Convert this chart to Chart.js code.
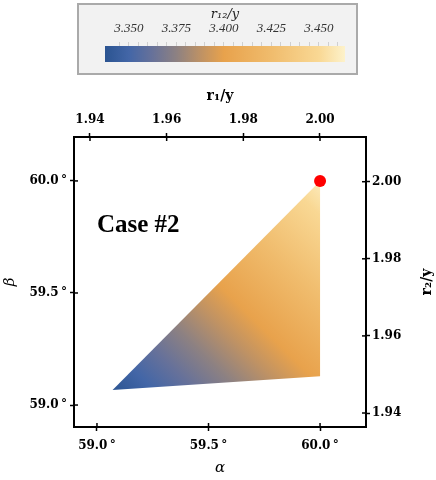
<!DOCTYPE html>
<html>
<head>
<meta charset="utf-8">
<script src="https://cdn.jsdelivr.net/npm/chart.js@4.4.1/dist/chart.umd.min.js"></script>
<style>
  body { margin: 0; background: #fff; width: 436px; height: 480px; position: relative; overflow: hidden; }
  #cbarBox { position: absolute; left: 77px; top: 3px; width: 277px; height: 68px; border: 2px solid #aaa; background: #f2f2f2; }
  #cbarBox canvas, #mainBox canvas { display: block; }
  #mainBox { position: absolute; left: 0; top: 80px; width: 436px; height: 400px; }
</style>
</head>
<body>
<div id="cbarBox"><canvas id="cbar" width="277" height="68"></canvas></div>
<div id="mainBox"><canvas id="main" width="436" height="400"></canvas></div>
<script>
// corners of the filled region (alpha, beta in degrees) and r12/y there
var regionAlpha = [59.07, 60.0, 60.0];
var regionBeta = [59.067, 59.129, 60.0];
var regionValue = [3.338, 3.405, 3.460];

// the marked point
var pointAlpha = [60.0];
var pointBeta = [60.0];

// axis ticks
var alphaTicks = [59.0, 59.5, 60.0];
var betaTicks = [59.0, 59.5, 60.0];
var r1Ticks = [1.94, 1.96, 1.98, 2.00];
var r2Ticks = [1.94, 1.96, 1.98, 2.00];

// colour bar
var cbarTicks = [3.350, 3.375, 3.400, 3.425, 3.450];
var cbarMinorTicks = [3.345, 3.350, 3.355, 3.360, 3.365, 3.370, 3.375, 3.380, 3.385, 3.390, 3.395, 3.400,
                      3.405, 3.410, 3.415, 3.420, 3.425, 3.430, 3.435, 3.440, 3.445, 3.450, 3.455, 3.460];
var cmapValues = [3.3374, 3.350, 3.362, 3.375, 3.388, 3.400, 3.425, 3.450, 3.4637];
var cmapColors = ['#2b5491', '#4366a7', '#66719a', '#8d8182', '#bf9264', '#e8a24c', '#f0bc6d', '#f9d894', '#fdf2cb'];
var cbarMin = 3.3374, cbarMax = 3.4637;

var tickFont = { family: 'DejaVu Serif', weight: 'bold', size: 12 };

function addStops(grad) {
  for (var i = 0; i < cmapValues.length; i++) {
    grad.addColorStop((cmapValues[i] - cbarMin) / (cbarMax - cbarMin), cmapColors[i]);
  }
  return grad;
}

// gradient along the region from the blue corner to the yellow corner
function regionFill(context) {
  var chart = context.chart;
  if (!chart.chartArea) return cmapColors[5];
  var sx = chart.scales.x, sy = chart.scales.y;
  var x0 = sx.getPixelForValue(regionAlpha[0]), y0 = sy.getPixelForValue(regionBeta[0]);
  var x1 = sx.getPixelForValue(regionAlpha[2]), y1 = sy.getPixelForValue(regionBeta[2]);
  var v0 = regionValue[0], v1 = regionValue[2];
  var a = (cbarMin - v0) / (v1 - v0), b = (cbarMax - v0) / (v1 - v0);
  var grad = chart.ctx.createLinearGradient(x0 + a * (x1 - x0), y0 + a * (y1 - y0), x0 + b * (x1 - x0), y0 + b * (y1 - y0));
  return addStops(grad);
}

function cbarFill(context) {
  var chart = context.chart;
  var area = chart.chartArea;
  if (!area) return cmapColors[5];
  return addStops(chart.ctx.createLinearGradient(area.left, 0, area.right, 0));
}

function setTicks(list) {
  return function (scale) { scale.ticks = list.map(function (v) { return { value: v }; }); };
}

// ticks that also poke inside the frame, the right title and the label
var extras = {
  id: 'extras',
  afterDatasetsDraw: function (chart) {
    var ctx = chart.ctx, a = chart.chartArea;
    ctx.save();
    ctx.strokeStyle = '#000';
    ctx.lineWidth = 1.5;
    ['x', 'x2', 'y', 'y2'].forEach(function (id) {
      var s = chart.scales[id];
      s.ticks.forEach(function (t) {
        var p = s.getPixelForValue(t.value);
        ctx.beginPath();
        if (id === 'x') { ctx.moveTo(p, a.bottom); ctx.lineTo(p, a.bottom - 4); }
        if (id === 'x2') { ctx.moveTo(p, a.top); ctx.lineTo(p, a.top + 4); }
        if (id === 'y') { ctx.moveTo(a.left, p); ctx.lineTo(a.left + 4, p); }
        if (id === 'y2') { ctx.moveTo(a.right, p); ctx.lineTo(a.right - 4, p); }
        ctx.stroke();
      });
    });
    // right axis title, reads bottom to top
    ctx.fillStyle = '#000';
    ctx.font = 'bold 14px "DejaVu Serif"';
    ctx.textAlign = 'center';
    ctx.textBaseline = 'middle';
    ctx.translate(chart.width - 9, (a.top + a.bottom) / 2);
    ctx.rotate(-Math.PI / 2);
    ctx.fillText('r\u2082/y', 0, 0);
    ctx.restore();

    ctx.save();
    ctx.fillStyle = '#000';
    ctx.font = 'bold 25px "Liberation Serif"';
    ctx.textAlign = 'left';
    ctx.textBaseline = 'alphabetic';
    ctx.fillText('Case #2', chart.scales.x.getPixelForValue(59.0), chart.scales.y.getPixelForValue(59.77));
    ctx.restore();
  }
};

new Chart(document.getElementById('main'), {
  type: 'scatter',
  data: {
    datasets: [
      {
        data: pointAlpha.map(function (v, i) { return { x: v, y: pointBeta[i] }; }),
        backgroundColor: '#ff0000',
        borderColor: '#ff0000',
        borderWidth: 0,
        pointRadius: 6,
        xAxisID: 'x', yAxisID: 'y'
      },
      {
        data: regionAlpha.map(function (v, i) { return { x: v, y: regionBeta[i] }; }),
        showLine: true,
        fill: 'shape',
        backgroundColor: regionFill,
        borderColor: 'rgba(0,0,0,0)',
        borderWidth: 0,
        pointRadius: 0,
        tension: 0,
        xAxisID: 'x', yAxisID: 'y'
      }
    ]
  },
  options: {
    responsive: false,
    animation: false,
    events: [],
    layout: { padding: 0 },
    plugins: { legend: { display: false }, tooltip: { enabled: false } },
    scales: {
      x: {
        type: 'linear', position: 'bottom', min: 58.897, max: 60.206,
        afterBuildTicks: setTicks(alphaTicks),
        afterFit: function (s) { s.height = 53; },
        ticks: { callback: function (v) { return v.toFixed(1) + '\u2009°'; }, font: tickFont, color: '#000', padding: 8, maxRotation: 0, autoSkip: false },
        grid: { drawOnChartArea: false, tickLength: 4, color: '#000', tickWidth: 1.5 },
        border: { color: '#000', width: 2 },
        title: { display: true, text: 'α', color: '#000', font: { family: 'DejaVu Serif', style: 'italic', size: 15 }, padding: { top: 0, bottom: 3 } }
      },
      x2: {
        type: 'linear', position: 'top', min: 1.93583, max: 2.0120,
        afterBuildTicks: setTicks(r1Ticks),
        afterFit: function (s) { s.height = 57; },
        ticks: { callback: function (v) { return v.toFixed(2); }, font: tickFont, color: '#000', padding: 6, maxRotation: 0, autoSkip: false },
        grid: { drawOnChartArea: false, tickLength: 4, color: '#000', tickWidth: 1.5 },
        border: { color: '#000', width: 2 },
        title: { display: true, text: 'r\u2081/y', color: '#000', font: { family: 'DejaVu Serif', weight: 'bold', size: 14 }, padding: { top: 8, bottom: 0 } }
      },
      y: {
        type: 'linear', position: 'left', min: 58.902, max: 60.196,
        afterBuildTicks: setTicks(betaTicks),
        afterFit: function (s) { s.width = 74; },
        ticks: { callback: function (v) { return v.toFixed(1) + '\u2009°'; }, font: tickFont, color: '#000', padding: 3, autoSkip: false },
        grid: { drawOnChartArea: false, tickLength: 4, color: '#000', tickWidth: 1.5 },
        border: { color: '#000', width: 2 },
        title: { display: true, text: 'β', color: '#000', font: { family: 'DejaVu Serif', style: 'italic', size: 15 }, padding: { top: 1, bottom: 0 } }
      },
      y2: {
        type: 'linear', position: 'right', min: 1.93637, max: 2.0116,
        afterBuildTicks: setTicks(r2Ticks),
        afterFit: function (s) { s.width = 70; },
        ticks: { callback: function (v) { return v.toFixed(2); }, font: tickFont, color: '#000', padding: 2, autoSkip: false },
        grid: { drawOnChartArea: false, tickLength: 4, color: '#000', tickWidth: 1.5 },
        border: { color: '#000', width: 2 }
      }
    }
  },
  plugins: [extras]
});

new Chart(document.getElementById('cbar'), {
  type: 'bar',
  data: {
    labels: ['r12/y'],
    datasets: [{
      data: [[cbarMin, cbarMax]],
      backgroundColor: cbarFill,
      borderWidth: 0,
      barPercentage: 1,
      categoryPercentage: 1
    }]
  },
  options: {
    indexAxis: 'y',
    responsive: false,
    animation: false,
    events: [],
    layout: { padding: { left: 26, right: 11, top: 0, bottom: 11 } },
    plugins: { legend: { display: false }, tooltip: { enabled: false } },
    scales: {
      x: {
        type: 'linear', position: 'top', min: cbarMin, max: cbarMax,
        afterBuildTicks: setTicks(cbarMinorTicks),
        afterFit: function (s) { s.height = 41; },
        ticks: {
          callback: function (v) {
            return cbarTicks.some(function (t) { return Math.abs(t - v) < 1e-6; }) ? v.toFixed(3) : '';
          },
          font: { family: 'Liberation Serif', style: 'italic', size: 13 }, color: '#333', padding: 6, maxRotation: 0, autoSkip: false
        },
        grid: { drawOnChartArea: false, tickLength: 4, color: '#d0d0d0' },
        border: { display: false },
        title: { display: true, text: 'r\u2081\u2082/y', color: '#222', font: { family: 'DejaVu Serif', style: 'italic', size: 13 }, padding: { top: 2, bottom: 0 } }
      },
      y: { display: false }
    }
  }
});
</script>
</body>
</html>
